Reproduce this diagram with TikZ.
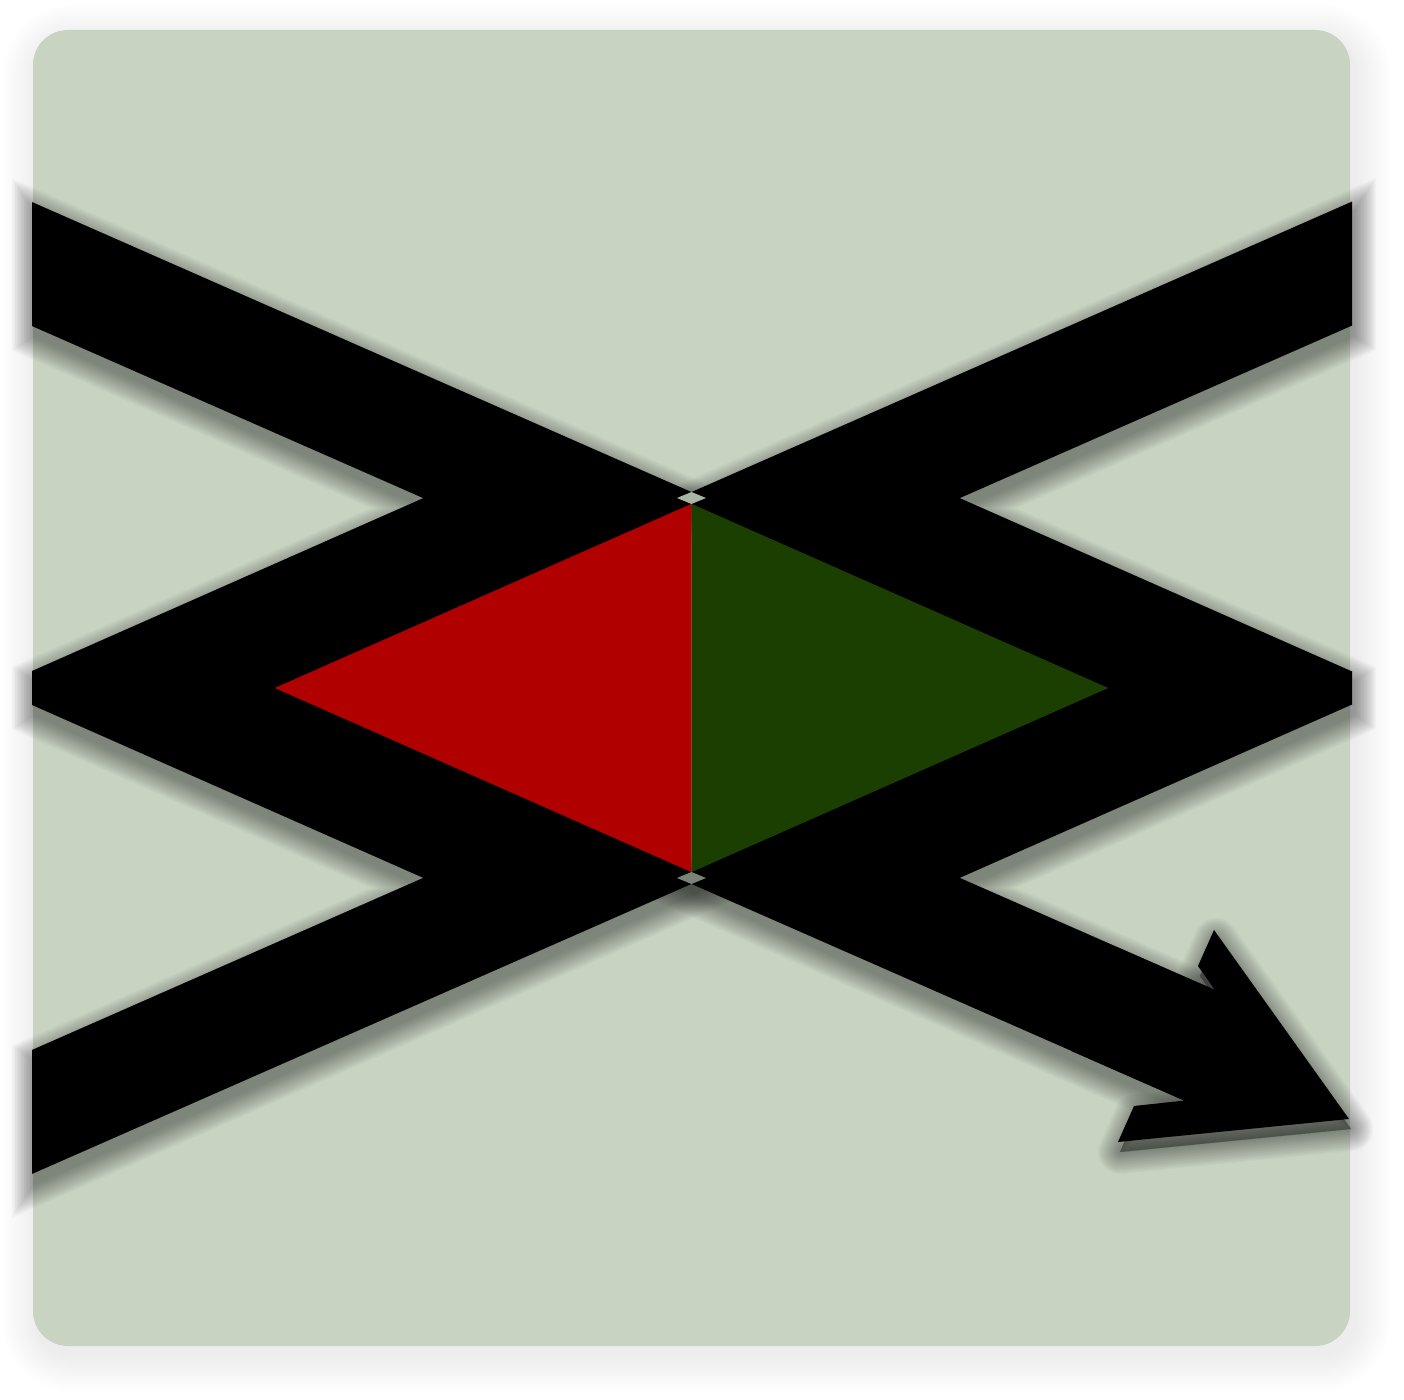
\documentclass[tikz,border=0pt]{standalone}
\begin{document}
\begin{tikzpicture}[x=0.5pt,y=-0.5pt,
  band/.style={line width=56.75pt, line join=miter, line cap=butt},
]
\definecolor{bg}{RGB}{200,211,194}
\definecolor{redc}{RGB}{176,0,0}
\definecolor{greenc}{RGB}{26,63,0}
\definecolor{diatop}{RGB}{170,180,164}
\definecolor{diabot}{RGB}{122,132,118}
\useasboundingbox (0,0) rectangle (1404,1400);
\fill[white] (0,0) rectangle (1404,1400);
% centre-line vertices of the zigzag
\coordinate (TLs) at (-150,184);
\coordinate (TL) at (564,498);
\coordinate (L) at (134,688);
\coordinate (BL) at (564,878);
\coordinate (BLs) at (-150,1192);
\coordinate (TRs) at (1533,184);
\coordinate (TR) at (819,498);
\coordinate (R) at (1249,688);
\coordinate (BR) at (819,878);
\coordinate (AE) at (1240,1063);
\coordinate (AEs) at (1200,1045.6);
% arrow head and end of shaft
\coordinate (Htip) at (1349,1119);
\coordinate (Hb1) at (1214,930);
\coordinate (Hi1) at (1198,966);
\coordinate (U1) at (1214.8,989.9);
\coordinate (U0) at (1116.5,946.9);
\coordinate (L0) at (1070.7,1050.7);
\coordinate (L1) at (1184.2,1100.6);
\coordinate (Hi2) at (1134,1106);
\coordinate (Hb2) at (1118,1142);
\def\headpath{(Htip)--(Hb1)--(Hi1)--(U1)--(U0)--(L0)--(L1)--(Hi2)--(Hb2)--cycle}
\def\headshadow{(Htip)--(Hb1)--(Hi1)--(U1)--(L1)--(Hi2)--(Hb2)--cycle}
% panel shadow
\foreach \r in {2,4,...,36} {
  \fill[black,opacity=0.005,rounded corners={(35+\r)*0.5pt}]
    (33-\r+5,30-\r+10) rectangle (1350+\r+5,1346+\r+10);
}
% panel
\fill[bg,rounded corners=17.5pt] (33,30) rectangle (1350,1346);
% band shadows
\begin{scope}[transform canvas={shift={(1pt,-5pt)}}]
\foreach \r in {1,2.5,...,22} {
  \begin{scope}
    \clip (32-\r,-100) rectangle (1352+\r,1500);
    \draw[band,line width={(56.75+\r)*1pt},opacity=0.028] (TLs)--(TL)--(L)--(BL)--(BLs);
    \draw[band,line width={(56.75+\r)*1pt},opacity=0.028] (TRs)--(TR)--(R)--(BR)--(AEs);
  \end{scope}
  \fill[opacity=0.028] \headshadow;
  \draw[opacity=0.028,line width={\r*1pt},line join=round] \headshadow;
}
\end{scope}
% inner triangles
\fill[redc] (691.5,500) -- (268,688) -- (691.5,876) -- cycle;
\fill[greenc] (691.5,500) -- (1115,688) -- (691.5,876) -- cycle;
% black zigzag
\begin{scope}
  \clip (32,-100) rectangle (1352,1500);
  \draw[band] (TLs)--(TL)--(L)--(BL)--(BLs);
  \draw[band] (TRs)--(TR)--(R)--(BR)--(AE);
\end{scope}
\fill \headpath;
% small overlap diamonds
\fill[diatop] (677,498) -- (691.5,492) -- (706,498) -- (691.5,504) -- cycle;
\fill[diabot] (677,878) -- (691.5,872) -- (706,878) -- (691.5,884) -- cycle;
\end{tikzpicture}
\end{document}
